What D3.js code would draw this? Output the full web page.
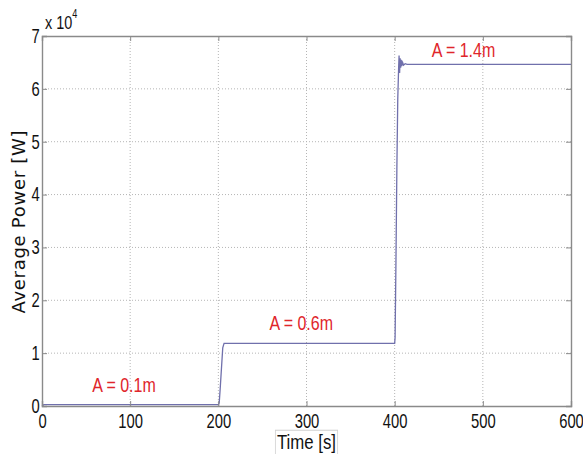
<!DOCTYPE html>
<html>
<head>
<meta charset="utf-8">
<script src="https://cdn.jsdelivr.net/npm/d3@7"></script>
<style>
  body { margin: 0; background: #fff; }
  svg { display: block; }
  .tick text { font-family: "Liberation Sans", sans-serif; font-size: 20px; fill: #111; }
</style>
</head>
<body>
<svg id="chart" width="583" height="454"></svg>
<script>
// Average power time series (time in s, power in W)
const timeValues  = [0, 2, 200, 201, 202, 203.5, 205, 206.5, 400, 400.5, 401.5, 402.5, 403.5, 404.5, 405, 405.6, 406.2, 406.8, 407.4, 408, 409, 410, 412, 414, 600];
const powerValues = [0, 250, 250, 600, 3000, 7000, 11000, 11850, 11850, 13000, 28000, 45000, 58000, 64000, 66300, 63000, 65800, 64000, 65500, 64300, 65000, 64500, 64750, 64650, 64650];
const xTicks = [0, 100, 200, 300, 400, 500, 600];
const yTicks = [0, 10000, 20000, 30000, 40000, 50000, 60000, 70000];
const annotations = [
  { t: 93, p: 2650, text: "A = 0.1m" },
  { t: 294, p: 14400, text: "A = 0.6m" },
  { t: 478, p: 66000, text: "A = 1.4m" }
];

const svg = d3.select("#chart");
const margin = { left: 42, right: 12, top: 36, bottom: 48 };
const W = 583, H = 454;
const x = d3.scaleLinear().domain([0, 600]).range([margin.left, W - margin.right]);
const y = d3.scaleLinear().domain([0, 70000]).range([H - margin.bottom, margin.top]);

const frameColor = "#8a8a8a";
const narrow = "scale(0.74,1)";

// dotted grid
const grid = svg.append("g");
grid.selectAll("line.gx").data(xTicks.slice(1, -1)).join("line")
  .attr("x1", d => x(d)).attr("x2", d => x(d))
  .attr("y1", y(0)).attr("y2", y(70000))
  .attr("stroke", "#b5b5b5").attr("stroke-width", 1).attr("stroke-dasharray", "1,2");
grid.selectAll("line.gy").data(yTicks.slice(1, -1)).join("line")
  .attr("x1", x(0)).attr("x2", x(600))
  .attr("y1", d => y(d)).attr("y2", d => y(d))
  .attr("stroke", "#b5b5b5").attr("stroke-width", 1).attr("stroke-dasharray", "1,2");

// power curve
const line = d3.line().x((d, i) => x(timeValues[i])).y(d => y(d));
svg.append("path")
  .datum(powerValues)
  .attr("d", line)
  .attr("fill", "none")
  .attr("stroke", "#7070ac")
  .attr("stroke-width", 1.3);

// axes with inward ticks
const xAxis = d3.axisBottom(x).tickValues(xTicks).tickSize(-5).tickPadding(8).tickFormat(d3.format("d"));
const yAxis = d3.axisLeft(y).tickValues(yTicks).tickSize(-5).tickPadding(3).tickFormat(d => d / 10000);
const xTop = d3.axisTop(x).tickValues(xTicks).tickSize(-5).tickFormat("");
const yRight = d3.axisRight(y).tickValues(yTicks).tickSize(-5).tickFormat("");

function styleAxis(g) {
  g.select(".domain").attr("stroke", frameColor).attr("stroke-width", 1.4);
  g.selectAll(".tick line").attr("stroke", frameColor);
  g.selectAll(".tick text").attr("transform", narrow);
}
svg.append("g").attr("transform", `translate(0,${y(0)})`).call(xAxis).call(styleAxis);
svg.append("g").attr("transform", `translate(${x(0)},0)`).call(yAxis).call(styleAxis);
svg.append("g").attr("transform", `translate(0,${y(70000)})`).call(xTop).call(styleAxis);
svg.append("g").attr("transform", `translate(${x(600)},0)`).call(yRight).call(styleAxis);

// exponent marker
const expo = svg.append("text")
  .attr("transform", "translate(45,29) scale(0.76,1)")
  .attr("font-family", "Liberation Sans, sans-serif")
  .attr("font-size", 19).attr("fill", "#111");
expo.append("tspan").text("x 10");
expo.append("tspan").attr("dy", -11).attr("font-size", 12).text("4");

// y label
svg.append("text")
  .attr("transform", `translate(25,${(y(0) + y(70000)) / 2 + 1}) rotate(-90)`)
  .attr("text-anchor", "middle")
  .attr("font-family", "DejaVu Sans, sans-serif")
  .attr("font-size", 18).attr("fill", "#111")
  .attr("textLength", 183).attr("lengthAdjust", "spacing")
  .text("Average Power [W]");

// x label in a small box
const xl = svg.append("g").attr("transform", `translate(${x(300)},449) scale(0.8,1)`);
const xlText = xl.append("text")
  .attr("text-anchor", "middle")
  .attr("font-family", "Liberation Sans, sans-serif")
  .attr("font-size", 21).attr("fill", "#111")
  .text("Time [s]");
const bb = xlText.node().getBBox();
xl.insert("rect", "text")
  .attr("x", bb.x - 2).attr("y", bb.y)
  .attr("width", bb.width + 4).attr("height", bb.height + 6)
  .attr("fill", "#fff").attr("stroke", "#d0d0d0").attr("stroke-width", 1);

// amplitude annotations
svg.selectAll("text.ann").data(annotations).join("text")
  .attr("transform", d => `translate(${x(d.t)},${y(d.p)}) scale(0.8,1)`)
  .attr("text-anchor", "middle")
  .attr("font-family", "Liberation Sans, sans-serif")
  .attr("font-size", 20).attr("fill", "#e0262b")
  .text(d => d.text);
</script>
</body>
</html>
